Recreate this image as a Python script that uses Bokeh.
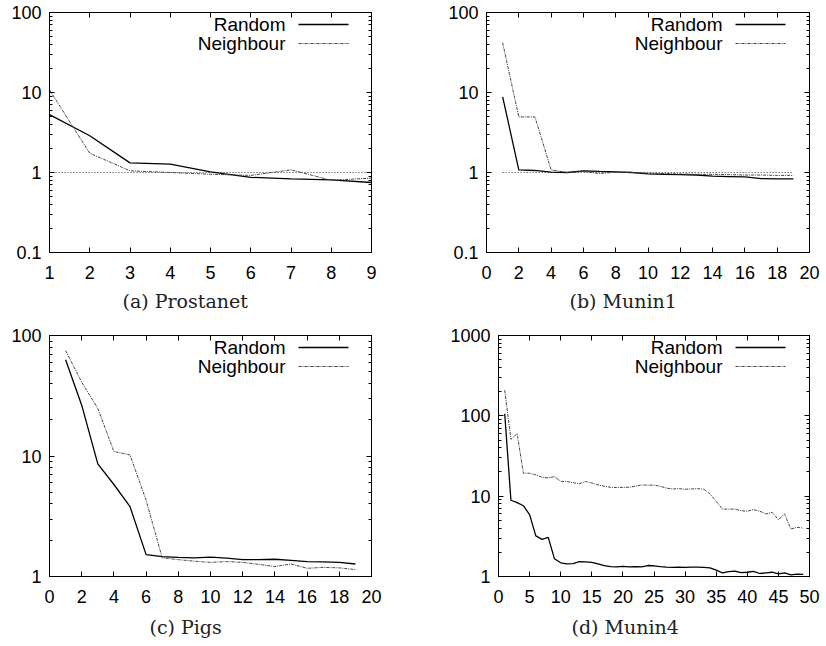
from bokeh.plotting import figure
from bokeh.layouts import column, row
from bokeh.models import (Range1d, FixedTicker, LinearAxis, NumeralTickFormatter,
                          Label, Arrow, Title)
from bokeh.embed import file_html
from bokeh.resources import INLINE

# ---------------- data ----------------
series_names = ["Random", "Neighbour"]

prostanet_x = [1, 2, 3, 4, 5, 6, 7, 8, 9]
prostanet_random = [5.3, 2.88, 1.32, 1.27, 1.02, 0.87, 0.83, 0.81, 0.75]
prostanet_neighbour = [10.8, 1.74, 1.05, 1.0, 0.95, 0.92, 1.08, 0.80, 0.85]
prostanet_base_x = [1, 9]
prostanet_base_y = [1, 1]

munin1_x = list(range(1, 20))
munin1_random = [8.8, 1.08, 1.06, 1.01, 1.0, 1.05, 1.03, 1.02, 1.0, 0.96,
                 0.95, 0.94, 0.93, 0.90, 0.89, 0.88, 0.84, 0.83, 0.83]
munin1_neighbour = [42, 4.95, 4.95, 1.08, 1.0, 1.03, 0.97, 1.01, 1.0, 0.98,
                    0.97, 0.96, 0.95, 0.95, 0.94, 0.93, 0.93, 0.92, 0.92]
munin1_base_x = [1, 19]
munin1_base_y = [1, 1]

pigs_x = list(range(1, 20))
pigs_random = [63, 26.4, 8.6, 5.8, 3.8, 1.52, 1.46, 1.44, 1.43, 1.45,
               1.42, 1.38, 1.38, 1.39, 1.36, 1.33, 1.32, 1.31, 1.27]
pigs_neighbour = [75, 41, 24.8, 10.9, 10.2, 4.3, 1.43, 1.38, 1.34, 1.31,
                  1.33, 1.31, 1.26, 1.21, 1.27, 1.17, 1.19, 1.18, 1.14]

munin4_x = list(range(1, 50))
munin4_random = [106, 8.9, 8.3, 7.6, 5.9, 3.2, 2.9, 3.07, 1.66, 1.48,
                 1.44, 1.45, 1.53, 1.52, 1.5, 1.44, 1.37, 1.33, 1.32, 1.34,
                 1.32, 1.33, 1.32, 1.37, 1.36, 1.33, 1.31, 1.30, 1.31, 1.30,
                 1.31, 1.31, 1.30, 1.28, 1.2, 1.11, 1.15, 1.17, 1.12, 1.13,
                 1.16, 1.09, 1.11, 1.13, 1.08, 1.11, 1.05, 1.07, 1.06]
munin4_neighbour = [208, 51, 60, 19.3, 19.3, 18.4, 17.2, 16.9, 17.5, 15.3,
                    15.2, 14.7, 14.3, 15.2, 14.6, 13.8, 13.3, 12.9, 12.8, 12.9,
                    12.9, 13.3, 13.8, 13.7, 13.7, 13.3, 12.6, 12.3, 12.4, 12.2,
                    12.3, 12.4, 12.2, 10.7, 8.6, 6.9, 6.9, 6.9, 6.6, 6.5,
                    6.8, 6.5, 6.0, 6.3, 5.1, 6.0, 3.9, 4.1, 4.0]

captions = ["(a) Prostanet", "(b) Munin1", "(c) Pigs", "(d) Munin4"]

x_ticks_a = [1, 2, 3, 4, 5, 6, 7, 8, 9]
x_ticks_bc = [0, 2, 4, 6, 8, 10, 12, 14, 16, 18, 20]
x_ticks_d = [0, 5, 10, 15, 20, 25, 30, 35, 40, 45, 50]
y_ticks_ab = [0.1, 1, 10, 100]
y_ticks_c = [1, 10, 100]
y_ticks_d = [1, 10, 100, 1000]

SANS = "Liberation Sans"
SERIF = "DejaVu Serif"


def minor_log(ticks):
    out = []
    for t in ticks[:-1]:
        for k in range(2, 10):
            out.append(t * k)
    return out


def mirror_axis(ticker, minor_len):
    return LinearAxis(ticker=ticker, major_label_text_font_size="1px",
                      major_label_text_color=None, major_label_standoff=0,
                      major_tick_in=5, major_tick_out=0,
                      minor_tick_in=minor_len, minor_tick_out=0,
                      axis_line_color="black", major_tick_line_color="black",
                      minor_tick_line_color="black")


def make_panel(w, h, bl, br, bt, bb, xr, yr, xt, yt, xs, ys_r, ys_n,
               caption, cap_off, cap_standoff, leg_right, base=None):
    p = figure(width=w, height=h, x_range=Range1d(*xr), y_range=Range1d(*yr),
               y_axis_type="log", output_backend="svg", toolbar_location=None,
               min_border_left=bl, min_border_right=br, min_border_top=bt,
               min_border_bottom=bb)
    p.grid.visible = False
    p.outline_line_color = "black"
    p.outline_line_width = 1
    p.background_fill_color = "white"
    p.border_fill_color = "white"

    p.xaxis.ticker = FixedTicker(ticks=xt, minor_ticks=[])
    p.yaxis.ticker = FixedTicker(ticks=yt, minor_ticks=minor_log(yt))
    p.yaxis.formatter = NumeralTickFormatter(format="0.[0]")
    for ax in p.xaxis + p.yaxis:
        ax.major_tick_in = 5
        ax.major_tick_out = 0
        ax.minor_tick_in = 3
        ax.minor_tick_out = 0
        ax.major_label_text_font = SANS
        ax.major_label_text_font_size = "18px"
        ax.major_label_text_color = "black"
        ax.axis_line_color = "black"
        ax.major_tick_line_color = "black"
        ax.minor_tick_line_color = "black"
    p.xaxis.major_label_standoff = 13
    p.yaxis.major_label_standoff = 8

    p.add_layout(mirror_axis(FixedTicker(ticks=xt, minor_ticks=[]), 0), "above")
    p.add_layout(mirror_axis(FixedTicker(ticks=yt, minor_ticks=minor_log(yt)), 3),
                 "right")

    if base is not None:
        p.line(base[0], base[1], line_color="#333333", line_width=1,
               line_dash="1 2")
    p.line(xs, ys_r, line_color="black", line_width=1.3)
    p.line(xs, ys_n, line_color="#444444", line_width=1, line_dash="3 1 1 1")

    fw = w - bl - br
    fh = h - bt - bb
    # legend: text, then sample line to its right (gnuplot style)
    line_end = fw - leg_right
    line_start = line_end - 50
    text_x = line_start - 13
    rows_y = [fh - 13, fh - 32]
    styles = [dict(line_color="black", line_width=1.3),
              dict(line_color="#444444", line_width=1, line_dash="3 1 1 1")]
    for name, yy, st in zip(series_names, rows_y, styles):
        p.add_layout(Label(x=text_x, y=yy, x_units="screen", y_units="screen",
                           text=name, text_align="right", text_baseline="middle",
                           text_font=SANS, text_font_size="19px",
                           text_color="black"))
        p.add_layout(Arrow(end=None, x_start=line_start, y_start=yy,
                           x_end=line_end, y_end=yy, start_units="screen",
                           end_units="screen", **st))

    p.add_layout(Title(text=caption, align="left", offset=cap_off,
                       standoff=cap_standoff, text_font=SERIF,
                       text_font_size="19px", text_font_style="normal",
                       text_color="#222222"), "below")
    return p


pa = make_panel(413, 318, 49, 42, 12, 65, (1, 9), (0.1, 100), x_ticks_a,
                y_ticks_ab, prostanet_x, prostanet_random, prostanet_neighbour,
                captions[0], 73, 13, 23, base=(prostanet_base_x, prostanet_base_y))
pb = make_panel(413, 318, 73, 17, 12, 65, (0, 20), (0.1, 100), x_ticks_bc,
                y_ticks_ab, munin1_x, munin1_random, munin1_neighbour,
                captions[1], 83, 13, 24, base=(munin1_base_x, munin1_base_y))
pc = make_panel(413, 327, 49, 42, 17, 68, (0, 20), (1, 100), x_ticks_bc,
                y_ticks_c, pigs_x, pigs_random, pigs_neighbour,
                captions[2], 100, 16, 23)
pd = make_panel(413, 327, 85, 17, 17, 68, (0, 50), (1, 1000), x_ticks_d,
                y_ticks_d, munin4_x, munin4_random, munin4_neighbour,
                captions[3], 73, 16, 24)

layout = column(row(pa, pb), row(pc, pd))
open("out.html", "w").write(file_html(layout, INLINE))
